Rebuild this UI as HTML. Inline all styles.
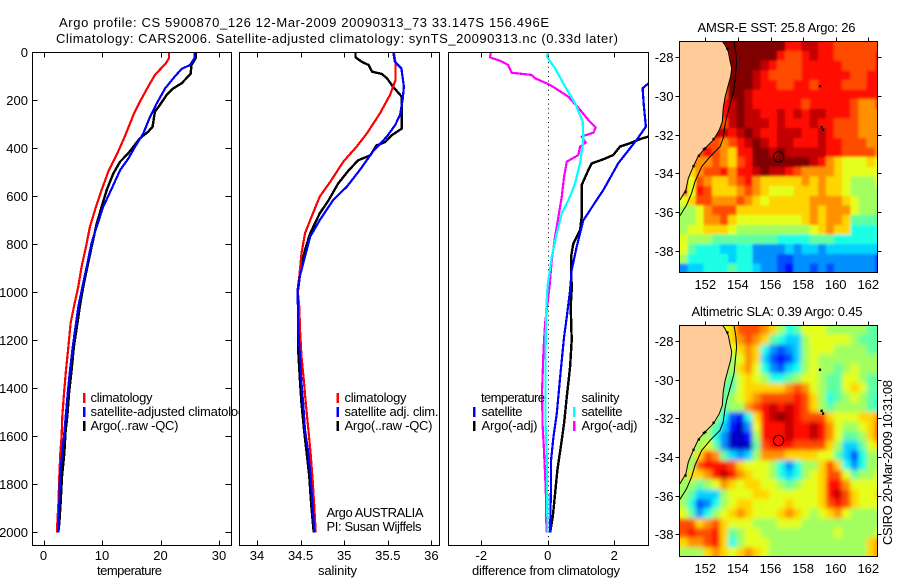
<!DOCTYPE html>
<html>
<head>
<meta charset="utf-8">
<title>Argo profile</title>
<style>
html,body{margin:0;padding:0;background:#fff;}
svg{display:block;}
text{font-family:"Liberation Sans",sans-serif;font-size:13px;fill:#000;}
</style>
</head>
<body>
<svg id="fig" xmlns="http://www.w3.org/2000/svg" width="900" height="580" viewBox="0 0 900 580">
<defs>
<clipPath id="c1"><rect x="32" y="52" width="199" height="494"/></clipPath>
<clipPath id="c2"><rect x="239" y="52" width="200" height="494"/></clipPath>
<clipPath id="c3"><rect x="448" y="52" width="201" height="494"/></clipPath>
<clipPath id="cm1"><rect x="679.5" y="41.5" width="198" height="231"/></clipPath>
<clipPath id="cm2"><rect x="679.5" y="325.5" width="198" height="231"/></clipPath>
<filter id="blur1" x="-5%" y="-5%" width="110%" height="110%"><feGaussianBlur stdDeviation="1.3"/></filter>
<filter id="blur2" x="-5%" y="-5%" width="110%" height="110%"><feGaussianBlur stdDeviation="2.4"/></filter>
</defs>
<text x="59" y="27" textLength="490" lengthAdjust="spacing">Argo profile: CS 5900870_126 12-Mar-2009 20090313_73 33.147S 156.496E</text>
<text x="56" y="43" textLength="562" lengthAdjust="spacing">Climatology: CARS2006. Satellite-adjusted climatology: synTS_20090313.nc (0.33d later)</text>
<g id="p1"></g>
<g>
<rect x="83" y="393" width="2.5" height="10" fill="#f00"/>
<rect x="83" y="407" width="2.5" height="10" fill="#00f"/>
<rect x="83" y="421" width="2.5" height="10" fill="#000"/>
<text x="90.5" y="402" textLength="62" lengthAdjust="spacing">climatology</text>
<text x="90.5" y="416" textLength="161" lengthAdjust="spacing">satellite-adjusted climatology</text>
<text x="90.5" y="430" textLength="88" lengthAdjust="spacing">Argo(..raw -QC)</text>
</g>
<g id="p2"></g>
<g>
<rect x="336.5" y="393" width="2.5" height="10" fill="#f00"/>
<rect x="336.5" y="407" width="2.5" height="10" fill="#00f"/>
<rect x="336.5" y="421" width="2.5" height="10" fill="#000"/>
<text x="344.5" y="402" textLength="62" lengthAdjust="spacing">climatology</text>
<text x="344.5" y="416" textLength="94" lengthAdjust="spacing">satellite adj. clim.</text>
<text x="344.5" y="430" textLength="88" lengthAdjust="spacing">Argo(..raw -QC)</text>
<text x="326.5" y="517" textLength="97" lengthAdjust="spacing">Argo AUSTRALIA</text>
<text x="326.5" y="531" textLength="95" lengthAdjust="spacing">PI: Susan Wijffels</text>
</g>
<g id="p3"></g>
<g>
<text x="481" y="402" textLength="64" lengthAdjust="spacing">temperature</text>
<rect x="473" y="407" width="2.5" height="10" fill="#00f"/>
<rect x="473" y="421" width="2.5" height="10" fill="#000"/>
<text x="481.5" y="416" textLength="41" lengthAdjust="spacing">satellite</text>
<text x="481.5" y="430" textLength="56" lengthAdjust="spacing">Argo(-adj)</text>
<text x="581.5" y="402" textLength="38" lengthAdjust="spacing">salinity</text>
<rect x="573" y="407" width="2.5" height="10" fill="#0ff"/>
<rect x="573" y="421" width="2.5" height="10" fill="#f0f"/>
<text x="581.5" y="416" textLength="41" lengthAdjust="spacing">satellite</text>
<text x="581.5" y="430" textLength="56" lengthAdjust="spacing">Argo(-adj)</text>
</g>
<g id="m1"></g>
<g id="m2"></g>
<text x="697.5" y="32" textLength="158" lengthAdjust="spacing">AMSR-E SST: 25.8 Argo: 26</text>
<text x="691.5" y="316" textLength="171" lengthAdjust="spacing">Altimetric SLA: 0.39 Argo: 0.45</text>
<text transform="translate(892,545) rotate(-90)" textLength="165" lengthAdjust="spacing">CSIRO 20-Mar-2009 10:31:08</text>
</svg>
<script>
// ---------- profile data ----------
const tempClimDepth = [0,25,46,94,143,205,261,351,428,497,574,657,726,810,893,976,1060,1129,1226,1324,1421,1518,1601,1671,1768,1879,1963,2000];
const tempClim = [21.45,21.45,20.9,19.06,17.9,16.5,15.36,13.9,12.5,11.08,9.94,8.8,7.95,7.26,6.52,5.95,5.2,4.64,4.25,3.85,3.5,3.22,3.1,2.88,2.7,2.54,2.36,2.36];
const tempSatDepth = [0,25,53,69,108,150,213,269,338,394,443,491,568,644,726,796,879,960,1060,1129,1226,1324,1421,1518,1601,1671,1768,1879,2000];
const tempSat = [25.8,25.8,25.05,23.6,22.2,20.8,19.35,18.2,17.06,15.64,14.5,13.1,11.65,10.2,9.1,8.2,7.5,6.8,5.95,5.55,5.0,4.53,4.13,3.79,3.5,3.2,2.82,2.7,2.53];
const tempArgoDepth = [0,25,53,90,129,150,178,219,247,310,331,358,421,456,504,574,644,714,811,893,976,1060,1129,1226,1324,1421,1518,1573,1671,1768,1879,1963,2000];
const tempArgo = [26.0,26.0,25.3,25.15,23.6,22.2,21.05,19.9,19.05,18.65,17.9,16.5,14.5,13.1,11.95,10.8,9.94,9.1,8.23,7.5,6.8,6.2,5.8,5.2,4.8,4.36,4.07,3.8,3.56,3.16,2.93,2.7,2.53];

const salClimDepth = [0,46,115,178,254,338,394,456,540,601,699,754,838,935,990,1060,1157,1268,1379,1463,1574,1671,1768,1879,2000];
const salClim = [35.57,35.59,35.59,35.525,35.41,35.26,35.14,34.99,34.84,34.72,34.61,34.55,34.51,34.485,34.466,34.485,34.493,34.51,34.54,34.56,34.59,34.615,34.635,34.655,34.673];
const salSatDepth = [0,39,67,143,199,261,303,351,413,490,560,615,699,768,851,935,990,1157,1268,1379,1463,1574,1671,1768,1879,2000];
const salSat = [35.563,35.58,35.656,35.685,35.67,35.64,35.585,35.49,35.33,35.18,35.03,34.875,34.72,34.61,34.55,34.49,34.466,34.474,34.493,34.51,34.53,34.55,34.59,34.615,34.635,34.658];
const salArgoDepth = [0,21,39,53,81,90,108,146,185,318,346,374,388,429,450,492,547,617,671,754,824,879,990,1226,1351,1463,1574,1671,1768,1879,2000];
const salArgo = [35.13,35.13,35.2,35.28,35.32,35.43,35.49,35.565,35.66,35.66,35.545,35.47,35.37,35.3,35.16,35.05,34.93,34.82,34.72,34.61,34.55,34.51,34.47,34.47,34.49,34.51,34.54,34.57,34.6,34.62,34.65];

const diffTSatDepth = [0,69,100,129,150,226,310,365,462,574,699,810,907,990,1115,1185,1324,1504,1601,1698,1782,2000];
const diffTSat = [4.35,4.0,3.3,3.03,2.85,2.89,2.95,2.67,2.12,1.67,1.07,0.87,0.72,0.67,0.56,0.49,0.39,0.27,0.17,0.1,0.1,0.07];
const diffTArgoDepth = [0,150,351,362,379,393,428,446,463,490,553,685,740,796,851,990,1060,1199,1310,1435,1546,1643,1740,1838,1935,2000];
const diffTArgo = [4.55,4.5,3.03,2.77,2.47,2.17,1.97,1.67,1.32,1.22,1.02,1.02,0.97,0.77,0.7,0.72,0.69,0.72,0.67,0.57,0.49,0.39,0.29,0.22,0.15,0.07];
const diffSSatDepth = [0,18,67,143,212,289,365,462,546,601,671,754,851,976,1087,1268,1546,1685,2000];
const diffSSat = [0.016,-0.03,0.22,0.52,0.82,1.05,1.07,0.97,0.82,0.67,0.42,0.27,0.12,-0.01,-0.05,-0.07,-0.07,-0.03,-0.01];
const diffSArgoDepth = [0,21,35,53,85,94,108,136,185,240,282,313,335,351,376,393,428,456,518,601,685,768,865,976,1129,1240,1407,1546,1643,1824,2000];
const diffSArgo = [-1.71,-1.74,-1.44,-1.19,-1.09,-0.49,-0.39,0.07,0.62,0.97,1.22,1.44,1.37,1.02,1.14,0.97,0.92,0.57,0.49,0.42,0.32,0.22,0.12,0.05,-0.08,-0.13,-0.17,-0.16,-0.12,-0.06,-0.04];

// ---------- axis tick labels ----------
const depthTicks = [0,200,400,600,800,1000,1200,1400,1600,1800,2000];
const tempTicks = [0,10,20,30];
const salTicks = [34,34.5,35,35.5,36];
const diffTicks = [-2,0,2];
const lonTicks = [152,154,156,158,160,162];
const latTicks = [28,30,32,34,36,38];

// ---------- map data (hex level per 0.5 degree cell, jet scale 0..f) ----------
const sstRows = [
"cccccffffffffddeeddcccccc",
"ccccccffffffdccdeddcccccd",
"ccccccffffedcccdddddccccd",
"ccccccfffedccccddddddccdd",
"ccccccfffeddccddcdddcccdd",
"ccccccffedddddddddddddddd",
"cccccdefeddddddcdddddcbbc",
"cccccdefeeddededeedddcbbb",
"ccccccefeeededddeddcccbbb",
"ccccgedefeddeeeddedcccbbb",
"cccccbcdefedeedddeddcccbb",
"cccdcbaddffefeeeeeddccccb",
"ccbbcbacdfffffffedba999a9",
"cabccdbddefeedcbbbba99999",
"c9cbaabcdbaaaaababaa98889",
"c9dcaaabcba999aaabaa98888",
"9accbbbcba9aaaaabbbba9888",
"889bcccaaaaaaaaababbb9888",
"889bbca99999999ababba7777",
"899aaa98888888889abaa6666",
"9888777777776666777666666",
"9766655664444545545555555",
"8666665664443344444444443",
"4556667665443244343444443"
].map(r => r.replace("g","e"));
const slaRows = [
"888889acccba8679998888877",
"888888abcba76558999998777",
"8888889aba643458999888877",
"88888889ba532358988888888",
"8888888ab9643568988789888",
"88888879a9866789987799877",
"88888779aaaaabcb98779a977",
"88888789abccccdca86789876",
"88888788bcdededca87888876",
"888886326adefedccca999aab",
"8888752149dddeddedb9889ac",
"8888641128dddeddedb9778ac",
"8889741117cdddcccca85579a",
"88acb75458bbbaaaa99753688",
"88cdddca999864688aca64688",
"8aabdedba99865689acc97889",
"88789ba9aa9987899addb9999",
"875558999aa999999adeca99a",
"8634689aa9999a999acdca999",
"974689aba999aba989ab98888",
"ccabca9998889998888888888",
"cdccda7899888888888988889",
"abbcda68999888888888888ab",
"888aba9aba988888888888 8ab".replace(" ","").slice(0,25)
];
const coastLon = [153.04,153.21,153.41,153.51,153.62,153.55,153.41,153.21,153.10,153.04,152.86,152.49,151.98,151.57,151.26,150.96,150.81,150.45];
const coastLat = [27.17,27.36,27.71,28.14,28.57,29.0,29.43,30.07,30.64,31.33,31.76,32.28,32.71,33.10,33.66,34.26,34.86,35.38];
const isoLon = [153.76,153.88,153.92,153.82,153.76,153.51,153.31,153.21,153.10,152.90,152.29,151.78,151.37,151.16,150.85,150.45];
const isoLat = [27.17,27.79,28.31,29.17,29.69,30.47,31.07,31.5,32.19,32.62,33.14,33.66,34.43,35.03,35.64,36.19];
const blobLon = [159.03,159.13,159.22,153.35,152.5,152.0,151.9,151.6,151.27,150.78];
const blobLat = [29.48,31.6,31.74,27.55,32.22,32.7,32.75,33.08,33.62,34.95];
const floatLon = 156.496;
const floatLat = 33.147;

const SVGNS = "http://www.w3.org/2000/svg";
function mk(parent, tag, attrs, txt){
  const el = document.createElementNS(SVGNS, tag);
  for (const k in attrs) el.setAttribute(k, attrs[k]);
  if (txt !== undefined) el.textContent = txt;
  parent.appendChild(el);
  return el;
}
const depthY = d => 52.3 + 0.24 * d;
const tempX = v => 43.5 + 5.85 * v;
const salX = v => 257 + 87.2 * (v - 34);
const diffX = v => 547.8 + 33.25 * v;

function profile(g, xs, ds, xf, color, w, clip, name){
  const pts = xs.map((v, i) => xf(v).toFixed(1) + "," + depthY(ds[i]).toFixed(1)).join(" ");
  const el = mk(g, "polyline", {points: pts, fill: "none", stroke: color, "stroke-width": w, "clip-path": "url(#" + clip + ")", "shape-rendering": "crispEdges", "stroke-linejoin": "round"});
  
  
}
function panel(g, x0, x1, ticks, xf, label, labelX, labelW, withDepth, name){
  const y0 = 52.5, y1 = 545.5;
  const bg = mk(g, "rect", {x: x0, y: y0, width: x1 - x0, height: y1 - y0, fill: "#fff", stroke: "none"});
  
  
  ticks.forEach(t => {
    const x = Math.round(xf(t)) + 0.5;
    const top = mk(g, "line", {x1: x, x2: x, y1: y0, y2: y0 + 5, stroke: "#000"});
    
    
    const bot = mk(g, "line", {x1: x, x2: x, y1: y1, y2: y1 - 5, stroke: "#000"});
    
    
    const lab = mk(g, "text", {x: xf(t), y: 560, "text-anchor": "middle"}, String(t));
    
    
  });
  if (withDepth) depthTicks.forEach(d => {
    const y = Math.round(depthY(d)) + 0.5;
    const l = mk(g, "line", {x1: x0, x2: x0 + 5, y1: y, y2: y, stroke: "#000"});
    
    
    const r = mk(g, "line", {x1: x1, x2: x1 - 6, y1: y, y2: y, stroke: "#000"});
    
    
    const lab = mk(g, "text", {x: 28, y: y + 4.5, "text-anchor": "end"}, String(d));
    
    
  });
  const xl = mk(g, "text", {x: labelX, y: 575, textLength: labelW, lengthAdjust: "spacing"}, label);
  
  
}
function frame(g, x0, x1, name){
  const f = mk(g, "rect", {x: x0, y: 52.5, width: x1 - x0, height: 493, fill: "none", stroke: "#000", "stroke-width": 1});
  
  
}

// panel 1
const p1 = document.getElementById("p1");
panel(p1, 32.5, 231.5, tempTicks, tempX, "temperature", 97, 65, true, "temperature");
profile(p1, tempArgo, tempArgoDepth, tempX, "#000", 2.4, "c1", "temperature-argo-line");
profile(p1, tempClim, tempClimDepth, tempX, "#f00", 2.2, "c1", "temperature-climatology-line");
profile(p1, tempSat, tempSatDepth, tempX, "#00f", 2.2, "c1", "temperature-satellite-line");
frame(p1, 32.5, 231.5, "temperature");
// panel 2
const p2 = document.getElementById("p2");
panel(p2, 239.5, 439.5, salTicks, salX, "salinity", 318, 39, false, "salinity");
profile(p2, salArgo, salArgoDepth, salX, "#000", 2.4, "c2", "salinity-argo-line");
profile(p2, salClim, salClimDepth, salX, "#f00", 2.2, "c2", "salinity-climatology-line");
profile(p2, salSat, salSatDepth, salX, "#00f", 2.2, "c2", "salinity-satellite-line");
frame(p2, 239.5, 439.5, "salinity");
// panel 3
const p3 = document.getElementById("p3");
panel(p3, 448.5, 648.5, diffTicks, diffX, "difference from climatology", 472, 148, false, "difference");
const zero = mk(p3, "line", {x1: diffX(0) + 0.7, x2: diffX(0) + 0.7, y1: 53, y2: 545, stroke: "#000", "stroke-dasharray": "1 3.6"});


profile(p3, diffTArgo, diffTArgoDepth, diffX, "#000", 2.4, "c3", "difference-temperature-argo-line");
profile(p3, diffTSat, diffTSatDepth, diffX, "#00f", 2.2, "c3", "difference-temperature-satellite-line");
profile(p3, diffSArgo, diffSArgoDepth, diffX, "#f0f", 2.2, "c3", "difference-salinity-argo-line");
profile(p3, diffSSat, diffSSatDepth, diffX, "#0ff", 2.2, "c3", "difference-salinity-satellite-line");
frame(p3, 448.5, 648.5, "difference");

function jet(t){
  const f = (c) => Math.round(255 * Math.max(0, Math.min(1, 1.5 - Math.abs(4 * t - c))));
  return "rgb(" + f(3) + "," + f(2) + "," + f(1) + ")";
}
function map(g, rows, clip, blur, yTop, lat28Y, name){
  const lonX = lon => 705.3 + 16.3 * (lon - 152);
  const latY = lat => lat28Y + 19.33 * (lat - 28);
  const heatClip = mk(g, "g", {"clip-path": "url(#" + clip + ")"});
  
  
  const layerBase = mk(heatClip, "g", {"shape-rendering": "crispEdges"});
  
  
  const layerBlur = mk(heatClip, "g", {"shape-rendering": "crispEdges", filter: "url(#" + blur + ")"});
  
  
  [layerBase, layerBlur].forEach(layer => {
    rows.forEach((row, j) => {
      row.split("").forEach((ch, i) => {
        const lon = 150.4 + 0.5 * i, lat = 27.17 + 0.5 * j;
        const c = mk(layer, "rect", {x: lonX(lon), y: latY(lat), width: 8.6, height: 10.1, fill: jet(parseInt(ch, 16) / 15)});
        
        
      });
    });
  });
  const over = mk(g, "g", {"clip-path": "url(#" + clip + ")"});
  
  
  const xl = coastLon.map(lonX), yl = coastLat.map(latY);
  const coastPts = xl.map((x, i) => x.toFixed(1) + "," + yl[i].toFixed(1)).join(" ");
  const landPts = coastPts + " 670," + yl[yl.length - 1].toFixed(1) + " 670," + (yTop - 5) + " " + xl[0].toFixed(1) + "," + (yTop - 5);
  const land = mk(over, "polygon", {points: landPts, fill: "#ffcc99", stroke: "none"});
  
  
  const coast = mk(over, "polyline", {points: coastPts, fill: "none", stroke: "#000", "stroke-width": 1});
  
  
  const iso = mk(over, "polyline", {points: isoLon.map((v, i) => lonX(v).toFixed(1) + "," + latY(isoLat[i]).toFixed(1)).join(" "), fill: "none", stroke: "#000", "stroke-width": 1});
  
  
  blobLon.forEach((v, i) => {
    const b = mk(over, "rect", {x: lonX(v) - 1, y: latY(blobLat[i]) - 1, width: 2.2, height: 2.4, fill: "#000"});
    
    
  });
  const circ = mk(over, "circle", {cx: lonX(floatLon), cy: latY(floatLat), r: 5.2, fill: "none", stroke: "#000", "stroke-width": 1});
  
  
  const f = mk(g, "rect", {x: 679.5, y: yTop, width: 198, height: 231, fill: "none", stroke: "#000"});
  
  
  lonTicks.forEach(t => {
    const x = Math.round(lonX(t)) + 0.5;
    const tk = mk(g, "line", {x1: x, x2: x, y1: yTop, y2: yTop - 4, stroke: "#000"});
    
    
    const lab = mk(g, "text", {x: lonX(t), y: yTop + 247.5, "text-anchor": "middle"}, String(t));
    
    
  });
  latTicks.forEach(t => {
    const y = Math.round(latY(t)) + 0.5;
    const l = mk(g, "line", {x1: 679.5, x2: 675.5, y1: y, y2: y, stroke: "#000"});
    
    
    const r = mk(g, "line", {x1: 877.5, x2: 881.5, y1: y, y2: y, stroke: "#000"});
    
    
    const lab = mk(g, "text", {x: 673.5, y: y + 4.5, "text-anchor": "end"}, "-" + t);
    
    
  });
}
map(document.getElementById("m1"), sstRows, "cm1", "blur1", 41.5, 57.3, "sst-map");
map(document.getElementById("m2"), slaRows, "cm2", "blur2", 325.5, 341, "sla-map");
</script>
</body>
</html>
